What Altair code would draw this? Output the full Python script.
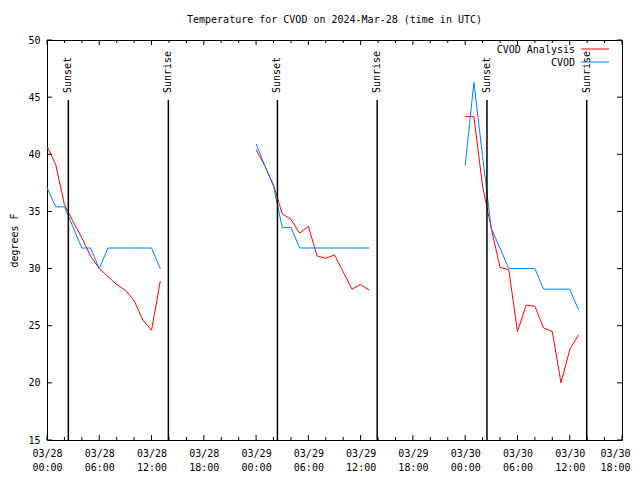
import altair as alt
import pandas as pd

# Hours since 2024-03-28 00:00 UTC
seg1_hours = list(range(0, 14))
seg2_hours = list(range(24, 38))
seg3_hours = list(range(48, 62))

analysis_seg1 = [40.7, 39.1, 35.6, 34.1, 32.7, 31.1, 30.0, 29.3, 28.6, 28.1, 27.2, 25.5, 24.6, 28.9]
analysis_seg2 = [40.4, 39.0, 37.3, 34.8, 34.3, 33.1, 33.7, 31.1, 30.9, 31.2, 29.7, 28.2, 28.6, 28.1]
analysis_seg3 = [43.3, 43.3, 37.2, 33.5, 30.1, 29.9, 24.5, 26.8, 26.7, 24.8, 24.5, 20.0, 22.9, 24.2]

obs_seg1 = [37.1, 35.4, 35.4, 33.6, 31.8, 31.8, 30.0, 31.8, 31.8, 31.8, 31.8, 31.8, 31.8, 30.0]
obs_seg2 = [40.9, 39.0, 37.2, 33.6, 33.6, 31.8, 31.8, 31.8, 31.8, 31.8, 31.8, 31.8, 31.8, 31.8]
obs_seg3 = [39.0, 46.3, 39.8, 33.5, 31.8, 30.0, 30.0, 30.0, 30.0, 28.2, 28.2, 28.2, 28.2, 26.4]

sun_hours = [2.45, 13.93, 26.45, 37.9, 50.5, 61.95]
sun_labels = ["Sunset", "Sunrise", "Sunset", "Sunrise", "Sunset", "Sunrise"]

x_major = list(range(0, 67, 6))
x_minor = [h for h in range(0, 67, 2) if h % 6 != 0]
y_ticks = [15, 20, 25, 30, 35, 40, 45, 50]

series_names = ["CVOD Analysis", "CVOD"]
series_colors = ["#ff0000", "#0080ff"]
title_text = "Temperature for CVOD on 2024-Mar-28 (time in UTC)"

FONT = "DejaVu Sans Mono"
W, H = 575, 400


def build(hours_list, temps_list):
    rows = []
    for s, (hs, ts) in enumerate(zip(hours_list, temps_list)):
        for h, t in zip(hs, ts):
            rows.append({"h": h, "T": t, "seg": s})
    return pd.DataFrame(rows)


df_an = build([seg1_hours, seg2_hours, seg3_hours], [analysis_seg1, analysis_seg2, analysis_seg3])
df_obs = build([seg1_hours, seg2_hours, seg3_hours], [obs_seg1, obs_seg2, obs_seg3])
df_sun = pd.DataFrame({"h": sun_hours, "label": sun_labels})
df_xmaj = pd.DataFrame({"h": x_major})
df_xmin = pd.DataFrame({"h": x_minor})
df_y = pd.DataFrame({"T": y_ticks})

xscale = alt.Scale(domain=[0, 66], nice=False, zero=False)
yscale = alt.Scale(domain=[15, 50], nice=False, zero=False)

label_expr = ("['03/' + (28 + floor(datum.value / 24)), "
              "(datum.value % 24 < 10 ? '0' : '') + (datum.value % 24) + ':00']")

x_axis = alt.Axis(values=x_major, labelExpr=label_expr, ticks=False, domain=False, grid=False,
                  labelFont=FONT, labelFontSize=10, labelColor="black", labelPadding=8,
                  labelLineHeight=14, labelFlush=False, labelOverlap=False, title=None,
                  labelOffset=alt.condition("datum.value == 66", alt.value(-7), alt.value(0)))
y_axis = alt.Axis(values=y_ticks, ticks=False, domain=False, grid=False,
                  labelFont=FONT, labelFontSize=10, labelColor="black", labelPadding=7,
                  labelFlush=False, labelOverlap=False,
                  title="degrees F", titleFont=FONT, titleFontSize=10, titleFontWeight="normal",
                  titleColor="black", titleX=-33, titleY=200, titleAngle=270,
                  titleAlign="center", titleBaseline="middle")

X = alt.X("h:Q", scale=xscale, axis=x_axis)
Y = alt.Y("T:Q", scale=yscale, axis=y_axis)

line_an = alt.Chart(df_an).mark_line(color=series_colors[0], strokeWidth=1).encode(
    x=X, y=Y, detail="seg:N")
line_obs = alt.Chart(df_obs).mark_line(color=series_colors[1], strokeWidth=1).encode(
    x=X, y=Y, detail="seg:N")

sun_rules = alt.Chart(df_sun).mark_rule(color="black", strokeWidth=1.5).encode(
    x=X, y=alt.value(60), y2=alt.value(H))
sun_text = alt.Chart(df_sun).mark_text(angle=270, align="left", baseline="middle",
                                       font=FONT, fontSize=10, color="black").encode(
    x=X, y=alt.value(53), text="label:N")


def xticks(df, length):
    bot = alt.Chart(df).mark_rule(color="black", strokeWidth=1).encode(
        x=X, y=alt.value(H), y2=alt.value(H - length))
    top = alt.Chart(df).mark_rule(color="black", strokeWidth=1).encode(
        x=X, y=alt.value(0), y2=alt.value(length))
    return [bot, top]


yl = alt.Chart(df_y).mark_rule(color="black", strokeWidth=1).encode(
    y=Y, x=alt.value(0), x2=alt.value(5))
yr = alt.Chart(df_y).mark_rule(color="black", strokeWidth=1).encode(
    y=Y, x=alt.value(W), x2=alt.value(W - 5))

legend_layers = []
for i, (name, col) in enumerate(zip(series_names, series_colors)):
    ly = 10 + 13 * i
    legend_layers.append(
        alt.Chart(pd.DataFrame({"name": [name]})).mark_text(
            align="right", baseline="middle", font=FONT, fontSize=10, color="black").encode(
            text="name:N", x=alt.value(528), y=alt.value(ly)))
    legend_layers.append(
        alt.Chart(pd.DataFrame({"name": [name]})).mark_rule(color=col, strokeWidth=1).encode(
            x=alt.value(534), x2=alt.value(562), y=alt.value(ly - 1)))

chart = alt.layer(
    line_an, line_obs, sun_rules, sun_text,
    *xticks(df_xmaj, 5), *xticks(df_xmin, 3), yl, yr,
    *legend_layers,
).properties(
    width=W, height=H,
    title=alt.Title(title_text, font=FONT, fontSize=10, fontWeight="normal",
                    color="black", anchor="middle", offset=10),
    padding={"left": 39, "top": 32, "right": 10, "bottom": 32},
    autosize=alt.AutoSizeParams(type="none"),
    background="white",
).configure_view(stroke="black", strokeWidth=1)

chart.save("out.html", embed_options={"renderer": "svg", "actions": False})
